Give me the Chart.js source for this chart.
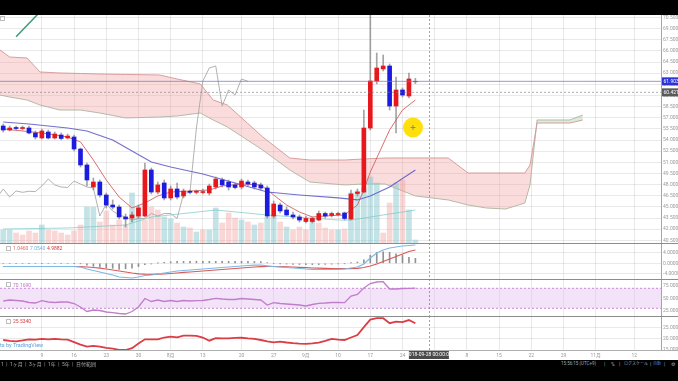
<!DOCTYPE html>
<html><head><meta charset="utf-8">
<script src="https://cdn.jsdelivr.net/npm/chart.js@4.4.0/dist/chart.umd.min.js"></script>
<style>
html,body{margin:0;padding:0;background:#000;width:678px;height:381px;overflow:hidden;font-family:Roboto,"Noto Sans CJK JP",sans-serif}
#panel{position:absolute;left:0;top:15px;width:678px;height:345px;background:#fff}
canvas{position:absolute;left:0}
.sep{position:absolute;left:0;width:678px;height:1px;background:#8c8c8c}
.t{position:absolute;white-space:nowrap;font-size:5px;line-height:6px}
.ic{position:absolute;width:3px;height:3px;border:1px solid #bdbdbd}
</style></head><body>
<div id="panel"></div>
<canvas id="cMain" width="678" height="228" style="top:15px"></canvas>
<canvas id="cMacd" width="678" height="36" style="top:243px"></canvas>
<canvas id="cRsi" width="678" height="37" style="top:279px"></canvas>
<canvas id="cAdx" width="678" height="44" style="top:316px"></canvas>
<div class="sep" style="top:243px"></div>
<div class="sep" style="top:279px"></div>
<div class="sep" style="top:316px"></div>
<div class="sep" style="top:350px;background:#b0b0b0"></div>
<div class="ic" style="left:0px;top:16px"></div>
<div class="ic" style="left:6px;top:246px"></div>
<div class="t" style="left:13px;top:245px;color:#e06a6a">1.0460</div>
<div class="t" style="left:30px;top:245px;color:#6fb3e0">7.0540</div>
<div class="t" style="left:47px;top:245px;color:#c83c3c">4.9882</div>
<div class="ic" style="left:6px;top:282px"></div>
<div class="t" style="left:13px;top:282px;color:#c070c8">70.1690</div>
<div class="ic" style="left:6px;top:319px"></div>
<div class="t" style="left:13px;top:318px;color:#d84040">25.5340</div>
<div class="t" style="left:0px;top:342px;color:#5aa0dc;font-size:5.5px">ts by TradingView</div>
<div class="t" style="left:1px;top:361px;color:#a8a8a8">1 &nbsp;|&nbsp; 1ヶ月 &nbsp;|&nbsp; 3ヶ月 &nbsp;|&nbsp; 1年 &nbsp;|&nbsp; 5年 &nbsp;|&nbsp; 日付範囲</div>
<div class="t" style="left:561px;top:361px;color:#a8a8a8;font-size:4.5px">15:56:15 (UTC+9)</div>
<div class="t" style="left:604px;top:361px;color:#a8a8a8">|</div>
<div class="t" style="left:611px;top:361px;color:#a8a8a8">%</div>
<div class="t" style="left:619px;top:361px;color:#a8a8a8">|</div>
<div class="t" style="left:624px;top:361px;color:#a8a8a8;font-size:4px">ログスケール</div>
<div class="t" style="left:650px;top:361px;color:#a8a8a8">|</div>
<div class="t" style="left:653px;top:361px;color:#3d7be0;font-size:4px">自動</div>
<div class="t" style="left:664px;top:361px;color:#a8a8a8">|</div>
<div class="t" style="left:671px;top:361px;color:#a8a8a8">⚙</div>
<script>
// ---------------- data ----------------
const opens  = [55.89,55.35,55.69,55.55,55.62,54.95,54.28,55.08,54.28,54.68, 54.28,54.41,52.79,50.64,47.68,48.35,46.60,45.25,44.98,43.64, 43.50,43.77,43.77,49.97,47.00,48.22,46.20,47.41,46.47,47.10, 46.96,46.93,46.87,47.68,48.62,48.35,47.95,47.68,48.35,48.22, 47.95,47.54,43.77,45.25,44.58,43.91,43.64,43.03,43.03,43.23, 44.11,43.84,43.97,44.18,43.37,46.80,47.00,55.62,61.95,63.57, 63.97,58.58,60.74,59.93,61.85];
const highs  = [56.16,55.89,55.89,55.89,55.89,55.22,55.49,55.35,55.08,54.95, 54.81,54.68,52.93,50.91,48.89,48.62,46.87,45.93,45.25,44.04, 44.31,45.25,50.91,50.24,48.35,48.62,47.81,48.22,47.41,47.27, 47.27,47.41,48.08,49.02,48.89,48.62,48.22,48.75,48.62,48.48, 48.22,47.81,45.79,45.52,44.98,44.31,43.91,43.77,43.64,44.45, 44.31,44.31,44.31,44.31,47.27,47.41,58.04,70.97,65.72,65.45, 64.24,62.49,61.01,63.03,62.30];
const lows   = [55.08,55.22,55.35,55.35,54.81,54.14,54.14,54.14,54.14,54.01, 54.14,52.52,50.37,47.81,47.27,46.33,44.85,44.71,43.37,42.29, 42.96,43.50,43.64,46.74,46.74,45.93,45.93,46.06,46.20,46.74, 46.74,46.74,46.60,47.41,47.68,47.27,47.41,47.41,47.81,47.41, 47.27,43.50,43.50,44.18,43.77,43.37,42.96,42.83,42.83,43.10, 43.50,43.64,43.77,43.23,43.23,46.47,46.87,55.35,61.55,63.30, 58.04,54.95,59.79,59.66,61.60];
const closes = [55.35,55.62,55.55,55.69,54.95,54.41,55.22,54.28,54.81,54.21, 54.54,52.79,50.64,48.62,48.35,46.60,45.25,44.98,43.64,43.37, 43.91,44.85,49.97,47.00,47.95,46.20,47.41,46.33,47.14,46.96, 47.10,47.06,47.81,48.75,47.95,47.68,47.61,48.48,48.08,47.68, 47.54,43.77,45.39,44.45,43.91,43.64,43.23,43.44,43.44,44.11, 43.77,44.11,44.11,43.44,46.74,47.00,55.62,61.95,63.70,63.97, 58.58,60.74,60.06,62.22,61.903];
const volumes = [130,130,100,80,120,100,180,130,120,100, 80,120,180,360,360,210,320,180,230,180, 500,360,230,360,330,260,240,200,160,150, 110,130,130,350,200,300,250,230,210,180, 200,260,280,210,160,130,160,130,250,200, 150,130,130,140,500,520,550,660,600,100, 400,600,630,330,30];
const volTeal = [1,1,0,0,0,0,1,0,0,0, 0,0,0,1,1,0,0,0,0,0, 1,1,0,0,0,1,1,0,1,0, 1,0,1,1,0,0,0,1,0,1, 0,1,1,0,1,0,0,0,1,0, 0,0,1,0,1,1,1,1,1,0, 0,1,0,1,1];
const volMaX = [0,10,19,23,33,41,52,54,64];
const volMa  = [140,150,180,260,330,280,230,230,330];

const maShortX = [0,6,10,12,14,16,18,20,22,24,26,29,32,34,37,40,42,44,46,48,50,53,55,56,57,58,60,62,64];
const maShort  = [55.49,54.95,54.41,53.74,51.31,48.62,46.33,44.85,45.52,46.47,47.00,47.14,47.27,47.81,48.08,47.95,46.60,45.25,44.31,43.64,43.77,43.91,45.25,47.27,49.70,51.58,55.35,58.04,59.39];
const maLongX = [0,4,10,13,17,23,26,31,36,41,46,52,55,57,60,64];
const maLong  = [56.43,56.16,55.62,55.22,54.01,51.04,50.37,49.43,48.22,47.00,46.60,46.20,45.93,46.47,47.68,49.97];

const cloudX = [-0.5,1,3.7,5.7,8.8,12,15,19,24.3,27,30.6,32.6,34.8,37.9,40.3,44.5,47.6,53,56,59.3,64,69.1,72.2,75,78,81,81.8,82.9,88,90];
const spanA  = [60.06,59.79,59.39,58.72,58.04,58.04,57.64,56.97,57.10,57.24,57.64,56.70,55.76,54.01,52.66,49.97,48.35,47.95,48.08,48.08,46.47,45.93,45.25,44.85,44.71,45.52,47.95,56.70,56.70,57.37];
const spanB  = [66.12,65.18,65.05,63.16,63.03,62.96,62.89,62.83,62.76,62.22,61.55,59.39,58.72,56.29,54.41,51.58,51.31,51.31,51.45,51.58,51.58,51.58,49.56,49.56,49.56,49.56,50.64,56.29,56.29,56.70];
const chikouShift = 26;

const trendLineX = [2.0, 6.0];
const trendLineY = [67.91, 71.51];
const lastPrice = 61.903;
const refPrice = 60.421;
const cursorPoint = {x: 63.63, y: 55.69};
const crossIdx = 66.1;
const crossLabel = "2018-09-28 00:00:00";

const macdLine = [-1.22,-1.22,-1.22,-1.22,-1.22,-1.22,-1.22,-1.22,-1.22,-1.22,-1.22,-1.22, -1.41,-2.17,-2.74,-3.31,-3.89,-4.46,-5.22,-5.41,-5.60,-5.22,-4.65,-4.46,-4.08,-3.70,-3.31,-2.93,-2.74,-2.55,-2.36,-2.17,-1.98,-1.79,-1.60,-1.41,-1.22,-1.03,-0.84,-0.72,-0.65,-0.95,-1.22,-1.41,-1.60,-1.79,-1.98,-2.17,-2.29,-2.36,-2.36,-2.36,-2.29,-2.17,-1.79,-1.41,-0.27,2.02,3.92,5.07,5.83,6.21,6.59,6.78,6.97];
const macdSignal = [-1.22,-1.22,-1.22,-1.22,-1.22,-1.22,-1.22,-1.22,-1.22,-1.22,-1.22,-1.22, -1.30,-1.41,-1.60,-1.87,-2.17,-2.55,-2.93,-3.31,-3.70,-4.00,-4.15,-4.19,-4.15,-4.08,-3.89,-3.70,-3.47,-3.31,-3.12,-2.93,-2.74,-2.55,-2.36,-2.17,-1.98,-1.79,-1.60,-1.41,-1.30,-1.22,-1.22,-1.26,-1.33,-1.41,-1.52,-1.64,-1.79,-1.87,-1.94,-2.02,-2.06,-2.06,-2.02,-1.91,-1.60,-1.03,-0.27,0.69,1.64,2.59,3.54,4.50,5.07];
const macdHist = [0,0,0,0,0,0,0,0,0,0,0,0, -0.11,-0.76,-1.14,-1.44,-1.72,-1.91,-2.29,-2.10,-1.90,-1.22,-0.50,-0.27,0.07,0.38,0.58,0.77,0.73,0.76,0.78,0.76,0.74,0.76,0.79,0.76,0.72,0.76,0.78,0.69,0.65,0.27,0,-0.15,-0.27,-0.38,-0.46,-0.53,-0.50,-0.49,-0.42,-0.34,-0.23,-0.11,0.23,0.50,1.33,3.05,4.19,4.38,4.19,3.62,3.05,2.28,1.90];
const rsi = [44.6,46.6,45.6,44.6,41.6,40.6,45.2,42.6,41.6,42.6, 42.6,39.6,32.6,23.6,26.6,25.6,22.6,21.2,19.6,18.6, 23.6,32.6,49.6,43.6,46.6,43.6,45.6,43.6,45.6,44.6, 45.2,45.6,47.6,50.0,48.6,47.6,47.6,49.6,48.6,47.6, 46.6,36.6,41.2,39.6,38.6,37.6,36.6,34.6,37.6,40.0, 40.6,41.6,41.6,41.2,54.6,57.6,70.6,79.6,82.6,83.2, 68.6,68.6,69.6,70.0,70.17];
const rsiBands = [70, 30];
const adx = [19.4,19.0,18.8,19.2,19.7,19.6,19.9,19.7,19.9,19.7, 19.6,18.5,17.4,16.5,16.8,16.5,15.9,15.6,15.0,15.0, 15.8,17.9,19.7,19.7,19.7,20.5,20.9,20.6,21.3,21.3, 21.2,20.5,19.1,20.2,20.1,20.1,20.3,20.4,20.1,19.9, 19.4,18.8,18.4,18.7,18.3,18.0,17.8,17.7,17.9,18.2, 19.0,19.9,19.6,19.4,20.5,21.6,25.1,28.4,29.0,29.0, 26.8,27.5,27.3,28.2,26.8];

const gridIdx = [6,11,16,21,26,31,37,42,47,52,57,62,67,72,77,82,87,92,98];
const timeLabels = ["9","16","23","30","8月","13","20","27","9月","10","17","24","10月","8","15","22","29","11月","12"];
const priceTicks = [40.5,42,43.5,45,46.5,48,49.5,51,52.5,54,55.5,57,58.5,60,61.5,63,64.5,66,67.5,69,70.5];
const macdTicks = [-4,0,4];
const rsiTicks = [25,50,75];
const adxTicks = [15,20,25];

// ---------------- layout constants ----------------
const X_MIN = -0.5, X_MAX = 102.14;
const P_MIN = 40.136, P_MAX = 70.836, VOL_MAX = 2280;
const UP = '#e8171c', DOWN = '#1c1ce0';
const GRID = 'rgba(0,0,0,0.085)';
Chart.defaults.font.family = 'Roboto, "Noto Sans CJK JP", sans-serif';

const pts = (xs, ys) => xs.map((x, i) => ({x, y: ys[i]}));
const seq = ys => ys.map((y, i) => ({x: i, y}));
const noPad = s => { s.paddingTop = 0; s.paddingBottom = 0; s.paddingLeft = 0; s.paddingRight = 0; };

function xAxis(show){
  return {type:'linear', min:X_MIN, max:X_MAX, offset:false,
    grid:{color:GRID, drawTicks:false, offset:false}, border:{display:false},
    afterBuildTicks:s=>{s.ticks = gridIdx.map(v=>({value:v}));},
    afterFit:s=>{s.height = show ? 10 : 0; noPad(s);},
    ticks:{display:show, autoSkip:false, maxRotation:0, padding:3, color:'#9a9a9a', font:{size:5},
      callback:v=>{const k = gridIdx.indexOf(v); return k>=0 ? timeLabels[k] : '';}}};
}
function yAxis(min, max, ticks, dec, grid){
  return {position:'right', min, max,
    afterBuildTicks:s=>{s.ticks = ticks.map(v=>({value:v}));},
    afterFit:s=>{s.width = 17; noPad(s);},
    grid:{display:grid, color:GRID, drawTicks:false},
    border:{display:true, color:'#a5a5a5'},
    ticks:{padding:2, color:'#9a9a9a', font:{size:5}, callback:v=>v.toFixed(dec)}};
}
const base = {responsive:false, animation:false, devicePixelRatio:1, events:[],
  layout:{padding:0, autoPadding:false}, plugins:{legend:{display:false}, tooltip:{enabled:false}}};

function crossPlugin(withLabel){
  return {id:'cross'+(withLabel?'L':''), afterDatasetsDraw(chart){
    const {ctx, chartArea:a, scales:{x}} = chart;
    const px = Math.round(x.getPixelForValue(crossIdx)) + 0.5;
    ctx.save(); ctx.strokeStyle='rgba(130,130,130,0.75)'; ctx.lineWidth=1; ctx.setLineDash([2,2]);
    ctx.beginPath(); ctx.moveTo(px, a.top); ctx.lineTo(px, a.bottom); ctx.stroke(); ctx.restore();
  }, afterDraw(chart){
    if(!withLabel) return;
    const {ctx, chartArea:a, scales:{x}} = chart;
    const px = x.getPixelForValue(crossIdx);
    ctx.save(); ctx.fillStyle='#4a4a4a'; ctx.fillRect(px-20, a.bottom+1, 40, 8);
    ctx.fillStyle='#fff'; ctx.font='5px Roboto'; ctx.textAlign='center'; ctx.textBaseline='middle';
    ctx.fillText(crossLabel, px, a.bottom+5.2); ctx.restore();
  }};
}
const priceTagPlugin = {id:'tags', afterDraw(chart){
  const {ctx, chartArea:a, scales:{y}} = chart;
  const tag = (v, bg) => {
    const py = y.getPixelForValue(v);
    ctx.fillStyle = bg; ctx.fillRect(a.right+1, py-4, 17, 8);
    ctx.fillStyle = '#fff'; ctx.font='5px Roboto'; ctx.textAlign='left'; ctx.textBaseline='middle';
    ctx.fillText(v.toFixed(3), a.right+2.5, py+0.3);
  };
  ctx.save(); tag(lastPrice, '#2a32d8'); tag(refPrice, '#5a5a5a'); ctx.restore();
}};

// ---------------- main chart ----------------
const candleCol = opens.map((o,i)=> closes[i] >= o ? UP : DOWN);
new Chart(document.getElementById('cMain'), {
  type:'bar',
  data:{datasets:[
    {type:'line', data:pts(cloudX, spanB), borderColor:'rgba(212,150,150,0.9)', borderWidth:1, pointRadius:0, fill:false, order:10},
    {type:'line', data:pts(cloudX, spanA), borderColor:'rgba(175,180,160,0.9)', borderWidth:1, pointRadius:0,
      fill:{target:0, above:'rgba(150,205,150,0.35)', below:'rgba(240,150,150,0.33)'}, order:10},
    {type:'bar', yAxisID:'vol', data:seq(volumes), barThickness:5, grouped:false,
      backgroundColor:volTeal.map(t=> t ? 'rgba(135,200,205,0.5)' : 'rgba(240,160,160,0.42)'), order:9},
    {type:'line', yAxisID:'vol', data:pts(volMaX, volMa), borderColor:'rgba(120,200,200,0.7)', borderWidth:1, pointRadius:0, order:8},
    {type:'line', data:closes.map((c,i)=>({x:i-chikouShift, y:c})), borderColor:'rgba(165,165,165,0.85)', borderWidth:1, pointRadius:0, order:7},
    {type:'line', data:pts(maLongX, maLong), borderColor:'rgba(100,95,200,0.9)', borderWidth:1.2, pointRadius:0, order:6},
    {type:'line', data:pts(maShortX, maShort), borderColor:'rgba(215,95,95,0.9)', borderWidth:1, pointRadius:0, order:6},
    {type:'bar', data:lows.map((l,i)=>({x:i, y:[l, highs[i]]})), barThickness:1, grouped:false, backgroundColor:'rgba(125,125,125,0.7)', order:4},
    {type:'bar', data:opens.map((o,i)=>({x:i, y:[o, closes[i]]})), barThickness:4, grouped:false, backgroundColor:candleCol, order:3},
    {type:'line', data:[{x:X_MIN,y:lastPrice},{x:X_MAX,y:lastPrice}], borderColor:'rgba(120,120,195,0.75)', borderWidth:1, pointRadius:0, order:2},
    {type:'line', data:[{x:X_MIN,y:refPrice},{x:X_MAX,y:refPrice}], borderColor:'rgba(120,120,120,0.6)', borderDash:[2,2], borderWidth:1, pointRadius:0, order:2},
    {type:'line', data:pts(trendLineX, trendLineY), borderColor:'#3e9a78', borderWidth:1.5, pointRadius:0, order:2},
    {type:'line', data:[cursorPoint], showLine:false, pointRadius:10, pointBackgroundColor:'rgba(255,222,0,0.95)', pointBorderWidth:0, order:1},
    {type:'line', data:[cursorPoint], showLine:false, pointStyle:'cross', pointRadius:2.5, pointBorderColor:'#888', pointBorderWidth:1, order:0}
  ]},
  options:Object.assign({}, base, {scales:{
    x:xAxis(false),
    y:yAxis(P_MIN, P_MAX, priceTicks, 3, true),
    vol:{display:false, min:0, max:VOL_MAX}
  }}),
  plugins:[crossPlugin(false), priceTagPlugin]
});

// ---------------- MACD ----------------
new Chart(document.getElementById('cMacd'), {
  type:'bar',
  data:{datasets:[
    {type:'bar', data:seq(macdHist), barThickness:1, grouped:false, backgroundColor:'rgba(110,110,110,0.75)', order:3},
    {type:'line', data:seq(macdLine), borderColor:'#7cb8e6', borderWidth:1.2, pointRadius:0, order:1},
    {type:'line', data:seq(macdSignal), borderColor:'#d65a5a', borderWidth:1.2, pointRadius:0, order:2}
  ]},
  options:Object.assign({}, base, {scales:{x:xAxis(false), y:yAxis(-5.98, 7.73, macdTicks, 4, true)}}),
  plugins:[crossPlugin(false)]
});

// ---------------- RSI ----------------
new Chart(document.getElementById('cRsi'), {
  type:'line',
  data:{datasets:[
    {data:[{x:X_MIN,y:rsiBands[0]},{x:X_MAX,y:rsiBands[0]}], borderColor:'rgba(190,120,210,0.85)', borderDash:[2,2], borderWidth:1, pointRadius:0, fill:false, order:3},
    {data:[{x:X_MIN,y:rsiBands[1]},{x:X_MAX,y:rsiBands[1]}], borderColor:'rgba(190,120,210,0.85)', borderDash:[2,2], borderWidth:1, pointRadius:0, fill:'-1', backgroundColor:'rgba(225,185,240,0.4)', order:3},
    {data:seq(rsi), borderColor:'#c27ccc', borderWidth:1.3, pointRadius:0, order:1}
  ]},
  options:Object.assign({}, base, {scales:{x:xAxis(false), y:yAxis(14.6, 88.6, rsiTicks, 4, false)}}),
  plugins:[crossPlugin(false)]
});

// ---------------- ADX ----------------
new Chart(document.getElementById('cAdx'), {
  type:'line',
  data:{datasets:[
    {data:seq(adx), borderColor:'#dc3c44', borderWidth:1.8, pointRadius:0, order:1}
  ]},
  options:Object.assign({}, base, {scales:{x:xAxis(true), y:yAxis(15.0, 29.97, adxTicks, 4, true)}}),
  plugins:[crossPlugin(true)]
});
</script>
</body></html>
